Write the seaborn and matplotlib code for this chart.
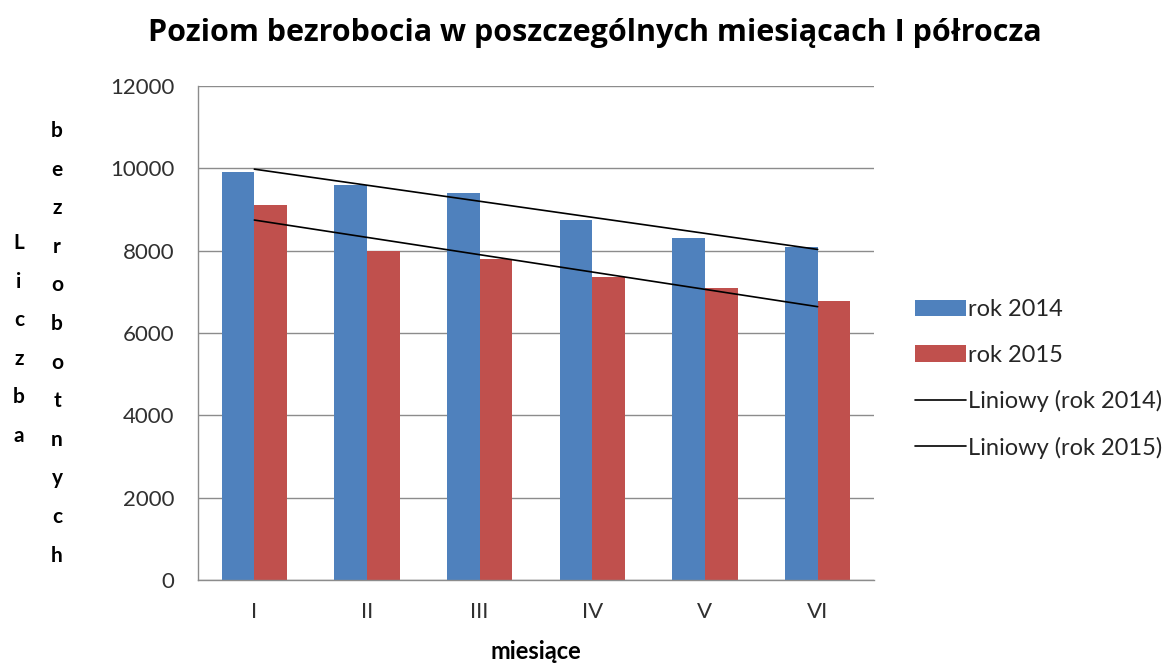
import numpy as np
import pandas as pd
import matplotlib
matplotlib.use("Agg")
import matplotlib.pyplot as plt
import seaborn as sns

# Data
months = ["I", "II", "III", "IV", "V", "VI"]
rok_2014 = [9900, 9600, 9400, 8750, 8300, 8080]
rok_2015 = [9100, 8000, 7800, 7370, 7100, 6780]

title = "Poziom bezrobocia w poszczególnych miesiącach I półrocza"
ylabel_words = ["Liczba", "bezrobotnych"]
xlabel = "miesiące"

sns.set_theme(style="white")
plt.rcParams["font.family"] = ["Lato", "DejaVu Sans"]

df = pd.DataFrame({
    "miesiac": months * 2,
    "wartosc": rok_2014 + rok_2015,
    "seria": ["rok 2014"] * len(months) + ["rok 2015"] * len(months),
})

fig = plt.figure(figsize=(11.75, 6.66), dpi=100)
ax = fig.add_axes([198 / 1175, 1 - 580 / 666, (874 - 198) / 1175, (580 - 86) / 666])

sns.barplot(data=df, x="miesiac", y="wartosc", hue="seria",
            palette=["#4F81BD", "#C0504D"], saturation=1, width=0.58, linewidth=0,
            ax=ax, zorder=2)

# Linear trendlines (Excel "Liniowy")
pos = np.arange(len(months))
sns.regplot(x=pos, y=np.array(rok_2014), scatter=False, ci=None, truncate=True,
            color="black", line_kws={"linewidth": 1.2, "zorder": 3},
            label="Liniowy (rok 2014)", ax=ax)
sns.regplot(x=pos, y=np.array(rok_2015), scatter=False, ci=None, truncate=True,
            color="black", line_kws={"linewidth": 1.2, "zorder": 3},
            label="Liniowy (rok 2015)", ax=ax)

ax.set_xlim(-0.5, len(months) - 0.5)
ax.set_ylim(0, 12000)
ax.set_yticks(range(0, 12001, 2000))
ax.yaxis.grid(True, color="#8c8c8c", linewidth=1)
ax.set_axisbelow(True)
for side in ["top", "right"]:
    ax.spines[side].set_visible(False)
for side in ["left", "bottom"]:
    ax.spines[side].set_color("#8c8c8c")
    ax.spines[side].set_linewidth(1)

ax.tick_params(axis="y", length=0, pad=17, labelsize=16, labelcolor="#303030")
ax.tick_params(axis="x", length=0, pad=16, labelsize=16, labelcolor="#303030")
ax.set_xlabel(xlabel, fontsize=17, fontweight="bold", labelpad=13, color="black")
ax.set_ylabel("")

# Vertical stacked-letter y-axis title
for word, xc, y0 in [(ylabel_words[0], 19, 243), (ylabel_words[1], 57, 131)]:
    for i, ch in enumerate(word):
        fig.text(xc / 1175, 1 - (y0 + i * 38.6) / 666, ch, ha="center", va="center",
                 fontsize=15, fontweight="bold", color="black")

fig.text(595 / 1175, 1 - 33 / 666, title, ha="center", va="center",
         fontsize=22, fontweight="bold", color="black", family=["Open Sans", "DejaVu Sans"])

handles, labels = ax.get_legend_handles_labels()
ax.legend(handles, labels, loc="center left", bbox_to_anchor=(915 / 1175, 1 - 379 / 666),
          bbox_transform=fig.transFigure, frameon=False, borderaxespad=0, borderpad=0,
          fontsize=17, handlelength=2.15, handletextpad=0.1, labelspacing=1.03)

fig.savefig("out.png", dpi=100)
